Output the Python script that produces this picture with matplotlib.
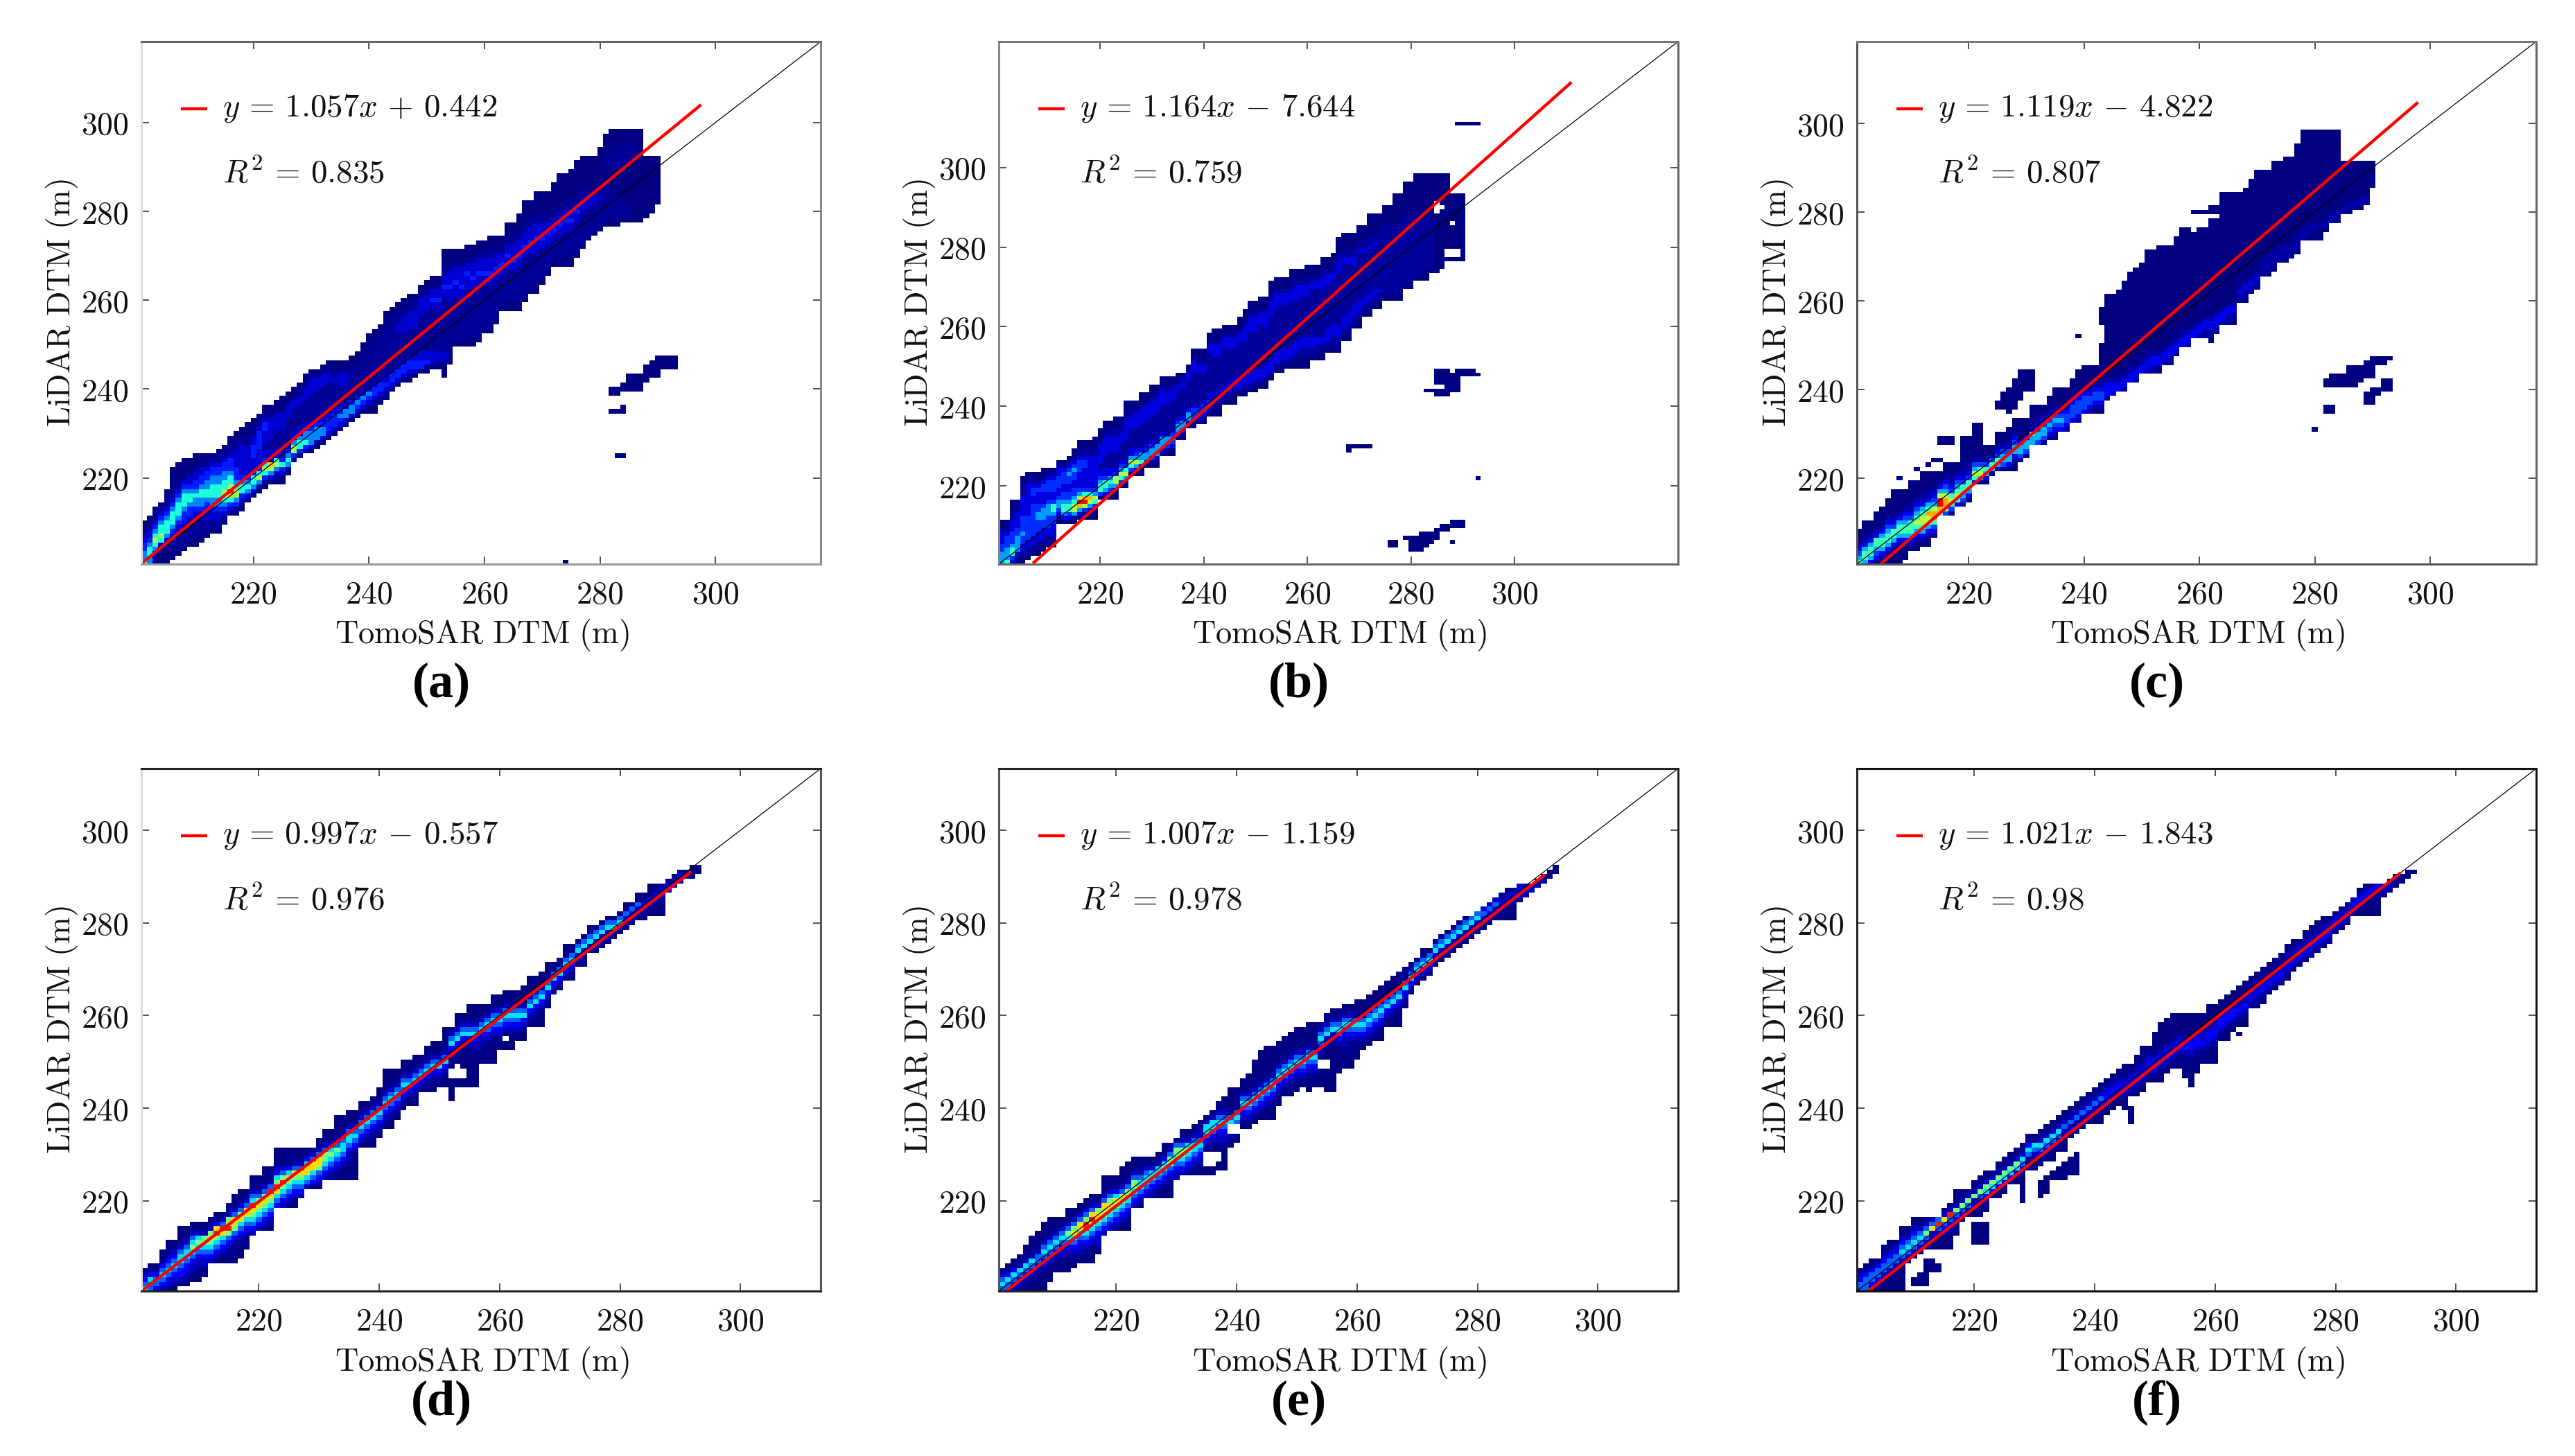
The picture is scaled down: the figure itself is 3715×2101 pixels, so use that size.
import numpy as np
import matplotlib
matplotlib.use('Agg')
import matplotlib.pyplot as plt
from matplotlib.colors import PowerNorm

plt.rcParams['mathtext.fontset'] = 'cm'

W, H = 3715, 2101

## columns of the density plots: (x bin, first y bin, colour level of each cell going up)
## level 0 = hole, 1 = navy ... 9 = red
a_cols = [
(201,201,"6554433211"),(202,201,"55665433211"),(203,201,"2235676543211"),(204,201,"11123676654321"),
(205,201,"11122356665432211"),(206,202,"112223456665432221111"),(207,203,"122223345666543221111"),
(208,204,"122222344566654321111"),(209,205,"12222234456654332111"),(210,205,"112222334556544332111"),
(211,206,"12222334556654433211"),(212,207,"1222334456655443221"),(213,208,"122334556665544321"),
(214,208,"1223345566655443221"),(215,210,"123456776655443221"),(216,212,"134689766544432211"),
(217,212,"1245776544433332211"),(218,213,"1234665433333332211"),(219,215,"135654333333322111"),
(220,216,"135664333444332211"),(221,217,"125764333344443221"),(222,218,"1246764332333443221"),
(223,219,"135783332233333211"),(224,219,"1235763322223333211"),(225,219,"11346432222233332111"),
(226,221,"1256543222222333211"),(227,224,"24775332222233211"),(228,225,"24665332222233221"),
(229,226,"346554322222333211"),(230,226,"1355543222222333321"),(231,227,"125554322222233321"),
(232,228,"135543222222233321"),(233,229,"134443222222233211"),(234,230,"13444322222232211"),
(235,231,"1345432222333211"),(236,232,"235532222333211"),(237,233,"135542222222211"),
(238,234,"134542222222111"),(239,235,"1345322222222111"),(240,235,"113453222222222111"),
(241,235,"1123443222222222211"),(242,237,"123443222222222211"),(243,238,"12343322222222222111"),
(244,240,"1344322222222222211"),(245,241,"1344322222223322211"),(246,242,"1344322222233332211"),
(247,242,"11344322222233332211"),(248,243,"1344322222233332211"),(249,244,"14433222222223333211"),
(250,244,"124332222222223333211"),(251,245,"133322222222223433211"),(252,245,"123322222222233433211"),
(253,243,"11123322222222222233433221111"),(254,246,"11222222222222333433322111"),
(255,250,"1222222222233343332111"),(256,250,"1222222222233433332111"),(257,250,"11222222222223334332111"),
(258,250,"11222222222223343332111"),(259,251,"12222222222223343332111"),(260,253,"122222222223343332211"),
(261,253,"1222222222233433322111"),(262,255,"12222222223343332111"),(263,258,"12222222334332111"),
(264,258,"11222222233343322111"),(265,258,"11222222233433322111"),(266,258,"1122222222334333221111"),
(267,260,"12222222223343332211111"),(268,262,"122222222334333221111"),(269,262,"11222222233343332211111"),
(270,264,"122222223343332211111"),(271,266,"1222222334332211111"),(272,268,"1222223343322111111"),
(273,268,"112222233433221111111"),(274,268,"112222223343322111111"),(275,268,"1122222233433221111111"),
(276,270,"1222222233432211111111"),(277,272,"122222223332211111111"),(278,274,"1222222333221111111"),
(279,275,"122222233221111111"),(280,276,"1222222322211111111"),(281,277,"122222222211112211111"),
(282,277,"1122222221111222221111"),(283,277,"1122222111111222221111"),(284,278,"122222111111122222111"),
(285,278,"122211111111122222111"),(286,278,"111111111111112222111"),(287,278,"111111111111111111111"),
(288,279,"11111111111111"),(289,280,"1111111111111"),(290,282,"11111111111"),
# island and stray cells
(282,239,"11"),(283,239,"11"),(284,240,"11"),(285,240,"1111"),(286,240,"1111"),(287,240,"1111"),
(288,242,"1111"),(289,243,"1111"),(290,243,"11111"),(291,245,"111"),(292,245,"111"),(293,245,"111"),
(282,235,"1"),(283,235,"1"),(284,235,"11"),(283,225,"1"),(284,225,"1"),(274,201,"1"),
]

b_cols = [
(201,201,"55544333211"),(202,201,"65554443211"),(203,201,"3466544433322111"),(204,201,"2235555443333221"),
(205,201,"1123344544443333322211"),(206,202,"1223344444433333333221"),(207,203,"122334444444433443221"),
(208,203,"112233444554433343211"),(209,204,"112333445554333443211"),(210,205,"12233444555433444321"),
(211,205,"11233344566433444321"),(212,211,"1234554334443321"),(213,211,"2356654433444321"),
(214,211,"13466544334454321"),(215,211,"1257765443344543211"),(216,212,"13589754333344432211"),
(217,212,"12479864333334432211"),(218,212,"11357864333333332211"),(219,212,"112467543333333322111"),
(220,217,"146654332333332111"),(221,217,"13566433222333332111"),(222,217,"12456533222233332211"),
(223,217,"112577432222333322111"),(224,220,"146754322223332211"),(225,220,"1357643222223333322111"),
(226,223,"1467533222223332211"),(227,223,"1357543222223333211"),(228,223,"113655322222233332111"),
(229,225,"1355432222223333211"),(230,225,"124554322222233332111"),(231,225,"113555322222223333211"),
(232,228,"13555322222223333211"),(233,228,"12455322222223332211"),(234,228,"11345432222222333211"),
(235,232,"13554322222233211"),(236,232,"12455322222223321"),(237,235,"1355322222223321"),
(238,235,"12444322222222333211"),(239,236,"1344322222222332211"),(240,236,"1234432222222332111"),
(241,238,"123433222222222233211"),(242,238,"1123332222222223332211"),(243,238,"1112333222222223332111"),
(244,241,"12333222222222333211"),(245,241,"11233322222222333211"),(246,241,"11123332222222333211"),
(247,243,"12333222222222332111"),(248,243,"1123332222222233332111"),(249,244,"12333222222222233332111"),
(250,244,"11233322222222233332111"),(251,245,"12333222222222223332111"),(252,245,"11233322222222233332111"),
(253,247,"1233322222222222333322111"),(254,249,"123332222222222233332111"),(255,249,"112333222222222223332111"),
(256,250,"12333222222222223332111"),(257,250,"1123332222222222233322111"),(258,250,"1112333222222222233332111"),
(259,250,"1112233322222222223332111"),(260,250,"11122333222222222233322111"),(261,252,"122333222222222222332111"),
(262,252,"112233222222222222332111"),(263,252,"11123322222222222233322111"),(264,254,"122333222222222223332111"),
(265,254,"1122333222222222223322111"),(266,254,"11223332222222222222333221111"),(267,257,"122333222222222222233221111"),
(268,257,"112233322222222222233221111"),(269,260,"122333222222222233221111"),(270,260,"11223332222222222223221111"),
(271,263,"12233222222222223221111"),(272,263,"11223322222222222322111111"),(273,265,"122332222222222232211111"),
(274,265,"112232222222222222211111"),(275,267,"122222222222222222211111"),(276,267,"112222222222222222211111"),
(277,267,"122222222222222222211111111"),(278,267,"111222222222222222211111111"),(279,270,"122222222222222222211111111"),
(280,270,"112222222222222222211111111"),(281,272,"122222222222222222111111111"),(282,272,"112222222222222221111111111"),
(283,272,"111222222222222211111111111"),(284,274,"1222222222222211111111111"),(285,274,"1111111111111110001111111"),
(286,275,"111111111111111011111111"),(287,277,"1001111111111111111111"),(288,277,"10011111101111111"),
(289,277,"10011111111111111"),(290,277,"11111111111111111"),
# separate patches
(289,311,"1"),(290,311,"1"),(291,311,"1"),(292,311,"1"),(293,311,"1"),
(283,244,"1"),(284,244,"1"),(285,243,"1101111"),(286,243,"1101111"),(287,243,"1111111"),(288,244,"11111"),
(289,244,"111111"),(290,248,"11"),(291,248,"11"),(292,248,"11"),(293,248,"1"),
(268,229,"11"),(269,230,"1"),(270,230,"1"),(271,230,"1"),(272,230,"1"),(293,222,"1"),
(276,205,"11"),(277,205,"11"),(279,207,"1"),(280,204,"1111"),(281,204,"1111"),(282,204,"11111"),
(283,205,"1111"),(284,206,"111"),(285,207,"111"),(286,209,"11"),(287,209,"11"),(288,206,"1"),
(288,210,"11"),(289,210,"11"),(290,210,"11"),
]

c_cols = [
(201,201,"65432111"),(202,201,"5665321111"),(203,201,"3566532111"),(204,201,"234566321111"),
(205,201,"1235665321111"),(206,201,"112356654321111"),(207,201,"11123566432111111"),(208,201,"11112356653211111"),
(209,202,"1112356654321111"),(210,204,"1235666432211111"),(211,204,"1123567654321111"),(212,205,"12356776532211111"),
(213,205,"11235778653221111"),(214,207,"134688754321111"),(215,212,"6899753211"),(216,212,"478875432111"),
(217,212,"246764322111"),(218,214,"3676543211"),(219,214,"245664322111"),(220,215,"13566432211"),
(221,219,"3675421"),(222,219,"2576421"),(223,219,"135642111"),(224,221,"2564211"),(225,222,"256432111"),
(226,222,"145542111"),(227,222,"1355432111"),(228,222,"112355432111"),(229,224,"2455321111"),(230,225,"145532111"),
(231,228,"556321111"),(232,228,"455432111"),(233,228,"245543211"),(234,229,"1345432111"),(235,229,"123454321111"),
(236,231,"3454321111"),(237,231,"2344321111"),(238,233,"3444321111"),(239,233,"234443211111"),(240,235,"34443211111"),
(241,235,"23443211111"),(242,235,"12344321111"),(243,235,"1234432111111111"),(243,255,"1111"),
(244,238,"233321111111111111111111"),(245,239,"33321111111111111111111"),(246,240,"33221111111111111111111"),
(247,240,"2332111111111111111111111"),(248,242,"3322111111111111111111111"),(249,242,"23321111111111111111111111"),
(250,244,"3322111111111111111111111"),(251,244,"2332211111111111111111111111"),(252,244,"2233211111111111111111111111"),
(253,244,"12332111111111111111111111111"),(254,246,"233211111111111111111111111"),(255,246,"223321111111111111111111111"),
(256,248,"233211111111111111111111111"),(257,250,"332211111111111111111111111"),(258,250,"233211111111111111111111111"),
(259,252,"332111111111111111111111"),(260,252,"2332111111111111111111111"),(261,252,"2233211111111111111111111"),
(262,251,"1223321111111111111111111111"),(263,253,"22332111111111111111111111"),(264,255,"233211111111111111111111111111"),
(265,255,"223321111111111111111111111111"),(266,255,"122321111111111111111111111111"),(267,260,"2232111111111111111111111"),
(268,260,"12232111111111111111111111"),(269,262,"22321111111111111111111111"),(270,263,"223211111111111111111111111"),
(271,266,"222211111111111111111111"),(272,266,"122221111111111111111111"),(273,267,"1222211111111111111111111"),
(274,269,"22221111111111111111111"),(275,269,"122211111111111111111111"),(276,270,"22211111111111111111111"),
(277,271,"1222111111111111111111111"),(278,274,"2221111111111111111111111"),(279,274,"1222111111111111111111111"),
(280,274,"1122111111111111111111111"),(281,274,"1112111111111111111111111"),(282,276,"12211111111111111111111"),
(283,278,"222111111111111111111"),(284,278,"122111111111111111111"),(285,280,"221111111111"),(286,280,"122111111111"),
(287,281,"22111111111"),(288,281,"12211111111"),(289,282,"2211111111"),(290,286,"111111"),
# separate patches
(215,228,"11"),(216,228,"11"),(217,228,"11"),(219,226,"1111"),(220,226,"1111"),(221,226,"1111111"),(222,226,"1111111"),
(208,220,"1"),(211,222,"1"),(213,223,"1"),(214,224,"1"),(215,224,"1"),
(225,236,"11"),(226,236,"1111"),(227,235,"111111"),(228,236,"1111111"),(229,238,"1111111"),(230,240,"11111"),(231,240,"11111"),
(239,252,"1"),(259,280,"1"),(260,280,"1"),(261,280,"1"),(262,280,"11"),(263,280,"11"),
(282,241,"11"),(283,241,"111"),(284,241,"111"),(285,241,"111"),(286,241,"11111"),(287,241,"11111"),(288,242,"1111"),
(289,237,"111"),(289,243,"1111"),(290,237,"1111"),(290,243,"11111"),(291,239,"11"),(291,246,"11"),
(292,240,"111"),(292,246,"11"),(293,240,"111"),(293,247,"1"),(282,235,"11"),(283,235,"11"),(280,231,"1"),
]

d_cols = [
(201,201,"65432"),(202,201,"556421"),(203,201,"455421"),(204,201,"345654211"),(205,201,"23456543211"),
(206,201,"12345654321"),(207,202,"2344566532111"),(208,202,"1234456653211"),(209,203,"1233456765321"),
(210,203,"1123345676321"),(211,204,"123345677321"),(212,207,"3456787321"),(213,207,"23456798421"),
(214,207,"12345689531"),(215,207,"1223457987321"),(216,207,"112234578853211"),(217,208,"112234568753211"),
(218,210,"1223456885321"),(219,213,"3456789653211"),(220,214,"345678753211"),(221,214,"23456787532111"),
(222,214,"12345678953211"),(223,219,"4568976432111"),(224,219,"3456797532111"),(225,219,"2345678642111"),
(226,219,"1234567853211"),(227,221,"34567853211"),(228,223,"356886421"),(229,223,"245688531"),
(230,223,"23457885321"),(231,225,"34567753211"),(232,225,"23456764211"),(233,225,"12345675321111"),
(234,225,"11234566532111"),(235,225,"111233456653211"),(236,225,"111122345653211"),(237,232,"2345653211"),
(238,232,"1234565321"),(239,232,"11234565321"),(240,234,"12345653211"),(241,236,"1234565321111"),
(242,236,"1123456532111"),(243,238,"12345653211"),(244,240,"12345653211"),(245,241,"1234653211"),
(246,241,"11234653211"),(247,244,"23465321"),(248,244,"1234653211"),(249,244,"11234653211"),(250,245,"1234653211"),
(251,245,"1123465321111"),(252,242,"1111100112346532"),(253,245,"1100012234653211"),(254,245,"1100111223465321"),
(255,245,"111111222346532111"),(256,245,"111111223346532111"),(257,250,"1122334653211"),(258,250,"1112234565321"),
(259,250,"111122345653211"),(260,253,"122345653211"),(261,253,"1102345653211"),(262,253,"1112345653211"),
(263,255,"12345653211"),(264,255,"112346532111"),(265,258,"12346532111"),(266,258,"11234653211"),
(267,258,"111234653211"),(268,262,"1234653211"),(269,265,"1346521"),(270,266,"1346521"),(271,268,"13465211"),
(272,268,"11346521"),(273,271,"134652"),(274,271,"1234652"),(275,274,"346521"),(276,274,"234652"),
(277,275,"134652"),(278,276,"134651"),(279,277,"13652"),(280,278,"13652"),(281,279,"134521"),(282,280,"13452"),
(283,281,"134521"),(284,281,"123421"),(285,282,"1234211"),(286,282,"1123421"),(287,282,"1112342"),
(288,287,"342"),(289,288,"432"),(290,289,"342"),(291,290,"32"),(292,290,"121"),(293,291,"11"),
]

e_cols = [
(201,201,"56532"),(202,201,"556421"),(203,201,"3456421"),(204,201,"23456321"),(205,201,"1234563211"),
(206,201,"112345632111"),(207,201,"1112345532111"),(208,201,"111123456532111"),(209,203,"11223456532111"),
(210,205,"122345653211"),(211,205,"112334565321"),(212,205,"11223456753211"),(213,206,"1223456875321"),
(214,207,"1233456885321"),(215,207,"11234569975321"),(216,207,"111234567985321"),(217,209,"1233456887321"),
(218,213,"3456788532111"),(219,214,"345678753211"),(220,214,"234567864211"),(221,214,"12345678532111"),
(222,214,"112345677532111"),(223,219,"34567753211"),(224,219,"23456653211"),(225,221,"345665321"),
(226,221,"234566421"),(227,221,"1234566321"),(228,221,"112345764211"),(229,221,"111234577532"),(230,225,"334567752"),
(231,226,"3456775321"),(232,226,"2345676321"),(233,226,"12345665321"),(234,226,"112345654321"),
(235,226,"1100023456631"),(236,226,"11000123456631"),(237,227,"110012334565321"),(238,227,"1111123345653211"),
(239,232,"1230065321111"),(240,233,"120056532111"),(241,236,"12345653211"),(242,236,"123456532111"),
(243,237,"12345653211111"),(244,238,"123456532111111"),(245,238,"1123456532111111"),(246,238,"1112345653211111"),
(247,241,"12234565321111"),(248,243,"1234565321111"),(249,243,"12234565321111"),(250,244,"12234565321111"),
(251,245,"1234565321111"),(252,244,"112234565321111"),(253,245,"12234565321111"),(254,245,"11110023456532"),
(255,244,"11111001123465321"),(256,244,"111111111223465321"),(257,248,"11122234565321"),(258,249,"11122334565321"),
(259,249,"11122234565321"),(260,251,"1122345653211"),(261,253,"12345653211"),(262,254,"12345653211"),
(263,255,"12345653211"),(264,255,"112345653211"),(265,258,"1234653211"),(266,258,"11234653211"),
(267,258,"111234653211"),(268,262,"123465321"),(269,265,"1346531"),(270,267,"134652"),(271,268,"1346521"),
(272,269,"134652"),(273,271,"134652"),(274,272,"134652"),(275,273,"134652"),(276,274,"134652"),(277,275,"134652"),
(278,276,"134652"),(279,277,"13465"),(280,278,"13465"),(281,279,"13454"),(282,280,"13453"),(283,281,"13453"),
(284,281,"123432"),(285,281,"1123431"),(286,281,"1112342"),(287,285,"2343"),(288,286,"343"),(289,287,"33"),
(290,288,"32"),(291,289,"32"),(292,290,"21"),(293,291,"11"),
]

f_cols = [
(201,201,"55432"),(202,201,"555421"),(203,201,"2455421"),(204,201,"1245542"),(205,201,"1123554321"),
(206,201,"11123554321"),(207,201,"11112355432"),(208,201,"11111235654321"),(209,207,"13565321"),(210,208,"135654321"),
(211,209,"13565321"),(212,210,"1357532"),(213,210,"1234853"),(214,210,"1123595"),(215,210,"112345832"),
(216,210,"1112345932"),(217,213,"1234573211"),(218,216,"2357321"),(219,217,"235732"),(220,217,"12347321"),
(221,217,"112357321"),(222,218,"123467321"),(223,221,"246732"),(224,221,"12467321"),(225,222,"12467321"),
(226,224,"2467321"),(227,224,"12467321"),(228,225,"12456321"),(229,227,"12356421"),(230,227,"11245621"),
(231,228,"12456321"),(232,229,"12456321"),(233,229,"112456321"),(234,231,"12356321"),(235,231,"112345321"),
(236,234,"2345321"),(237,235,"2345321"),(238,236,"2345321"),(239,237,"2345321"),(240,237,"12345321"),
(241,237,"112345321"),(242,239,"12344321"),(243,240,"12344321"),(244,241,"12344321"),(245,240,"1123443211"),
(246,243,"2344321"),(247,243,"123443211"),(248,244,"1234432111"),(249,246,"12344321"),(250,246,"12344321111"),
(251,246,"1123443211111"),(252,248,"123443211111"),(253,249,"123443211111"),(254,249,"112344321111"),
(255,247,"11122344321111"),(256,245,"1111122344321111"),(257,248,"1122234432111"),(258,250,"12234332111"),
(259,250,"1122344321111"),(260,250,"1112234432111"),(261,255,"123443211"),(262,255,"1123443211"),(263,257,"123443211"),
(264,258,"123433211"),(265,258,"1123433211"),(266,262,"2343321"),(267,262,"12343321"),(268,263,"12343321"),
(269,265,"2343321"),(270,266,"2343321"),(271,267,"2343321"),(272,268,"12343321"),(273,270,"2343321"),(274,271,"234332"),
(275,272,"2343321"),(276,273,"2343321"),(277,274,"2343321"),(278,275,"2343321"),(279,276,"234332"),(280,278,"23432"),
(281,279,"23432"),(282,280,"23432"),(283,282,"2343"),(284,282,"123431"),(285,282,"1123431"),(286,282,"1112342"),
(287,282,"1111234"),(288,286,"234"),(289,287,"233"),(290,288,"222"),(291,289,"22"),(292,290,"21"),(293,291,"1"),
# separate patches
(210,202,"11"),(211,202,"111"),(212,202,"111"),(212,205,"111"),(213,205,"111"),(214,205,"11"),
(220,211,"11111"),(221,211,"11111"),(222,211,"11111"),(228,220,"11111"),(231,221,"1111"),(232,222,"1111"),
(233,225,"11"),(234,225,"111"),(235,225,"1111"),(236,226,"1111"),(237,226,"11111"),
(246,237,"1111"),(259,251,"11"),(260,251,"11"),(264,256,"1"),(265,258,"11"),
]

## the drawn fit line: end points
a_fit = ([200.6,297.5],[200.7,304.0])
b_fit = ([207.0,311.0],[200.6,321.4])
c_fit = ([204.7,297.9],[200.6,304.7])
d_fit = ([200.5,291.8],[200.5,291.0])
e_fit = ([201.8,291.2],[200.6,290.4])
f_fit = ([202.5,290.8],[200.6,290.8])

equations = [r'$y\,=\,1.057x\,+\,0.442$', r'$y\,=\,1.164x\,-\,7.644$', r'$y\,=\,1.119x\,-\,4.822$',
             r'$y\,=\,0.997x\,-\,0.557$', r'$y\,=\,1.007x\,-\,1.159$', r'$y\,=\,1.021x\,-\,1.843$']
r2_labels = [r'$R^2\,=\,0.835$', r'$R^2\,=\,0.759$', r'$R^2\,=\,0.807$',
             r'$R^2\,=\,0.976$', r'$R^2\,=\,0.978$', r'$R^2\,=\,0.98$']
letters = ['(a)', '(b)', '(c)', '(d)', '(e)', '(f)']
ticks = [220, 240, 260, 280, 300]
limits = [(200.6,318.2), (200.4,331.6), (200.6,318.4), (200.5,313.3), (200.5,313.3), (200.5,313.3)]

panels = [a_cols, b_cols, c_cols, d_cols, e_cols, f_cols]
fits = [a_fit, b_fit, c_fit, d_fit, e_fit, f_fit]

## frame colours differ a lot between panels in the scan: left, top, right, bottom
frames = [('#dddddd','#666666','#888888','#999999'),
          ('#888888','#777777','#666666','#666666'),
          ('#555555','#777777','#666666','#555555'),
          ('#dddddd','#222222','#555555','#222222'),
          ('#555555','#222222','#222222','#222222'),
          ('#222222','#111111','#111111','#111111')]
## how fast the colour climbs with level in each panel
gammas = [1.8, 1.7, 1.6, 2.0, 2.0, 2.0]

lefts = [204, 1441, 2679]
tops = [60, 1109]
axw, axh = 980, 754

edges = np.arange(200.5, 333, 1.0)

fig = plt.figure(figsize=(W/100, H/100), dpi=100, facecolor='white')


def grid_from(cols):
    g = np.zeros((len(edges)-1, len(edges)-1))
    for x, y0, cells in cols:
        for k, c in enumerate(cells):
            g[y0+k-201, x-201] = int(c)
    return np.ma.masked_equal(g, 0)


for i in range(6):
    col = i % 3
    row = i // 3
    left = lefts[col]
    top = tops[row]
    ax = fig.add_axes([left/W, 1-(top+axh)/H, axw/W, axh/H])

    norm = PowerNorm(gamma=gammas[i], vmin=1, vmax=9.5)
    ax.pcolormesh(edges, edges, grid_from(panels[i]), cmap='jet', norm=norm, antialiased=False)
    lo, hi = limits[i]
    ax.plot([lo, hi], [lo, hi], color='black', lw=0.9)
    ax.plot(fits[i][0], fits[i][1], color='red', lw=3.2, solid_capstyle='butt')
    ax.set_xlim(lo, hi)
    ax.set_ylim(lo, hi)

    ax.set_xticks(ticks)
    ax.set_yticks(ticks)
    ax.set_xticklabels(['$%d$' % t for t in ticks])
    ax.set_yticklabels(['$%d$' % t for t in ticks])
    ax.tick_params(direction='in', top=True, right=True, length=8, width=1.2, color='#333333',
                   labelsize=33, pad=13, labelcolor='#111111')
    ax.tick_params(axis='x', pad=16)
    for side, c in zip(['left', 'top', 'right', 'bottom'], frames[i]):
        ax.spines[side].set_linewidth(2.2)
        ax.spines[side].set_color(c)

    # legend is drawn by hand so it sits like the original one
    ax.plot([0.058, 0.097], [0.872, 0.872], color='red', lw=3.2, transform=ax.transAxes, solid_capstyle='butt')
    ax.text(0.119, 0.872, equations[i], transform=ax.transAxes, fontsize=33.8, va='center', ha='left', color='#111111')
    ax.text(0.119, 0.748, r2_labels[i], transform=ax.transAxes, fontsize=33.8, va='center', ha='left', color='#111111')

    fig.text((left+492)/W, 1-(top+857)/H, r'$\mathrm{TomoSAR\ DTM\ (m)}$', fontsize=33.5, ha='center', va='center', color='#111111')
    fig.text((left-114)/W, 1-(top+377)/H, r'$\mathrm{LiDAR\ DTM\ (m)}$', fontsize=33.5, rotation=90, ha='center', va='center', color='#111111')
    fig.text((left+433)/W, 1-(top+928-(row*13))/H, letters[i], fontsize=52, fontweight='bold',
             family='Liberation Serif', ha='center', va='center', color='black')

fig.savefig('out.png', dpi=100, facecolor='white')
